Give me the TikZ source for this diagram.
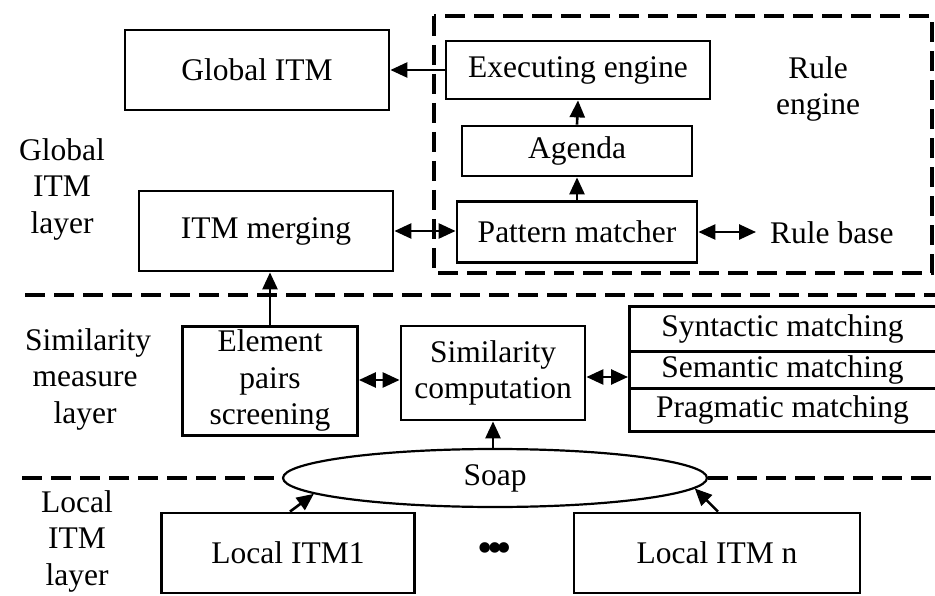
\documentclass[tikz,border=0pt]{standalone}
\usepackage{fontspec}
\setmainfont{Liberation Serif}
\usetikzlibrary{arrows.meta,shapes.geometric,calc}
\begin{document}
\begin{tikzpicture}[x=1pt,y=-1pt,
  every node/.style={font=\fontsize{31.5}{36.5}\selectfont, inner sep=0pt, align=center},
  box/.style={draw, line width=2.8pt, rectangle},
  row/.style={draw, line width=2.8pt, rectangle, minimum width=312pt, anchor=north west},
  layerline/.style={line width=4pt, dash pattern=on 20pt off 9pt},
  arr/.style={line width=2.6pt, -{Triangle[length=17pt,width=15pt]}},
  barr/.style={line width=2.6pt, {Triangle[length=17pt,width=15pt]}-{Triangle[length=17pt,width=15pt]}},
  label/.style={text width=120pt}]
\useasboundingbox (0,0) rectangle (935,596);

% rule engine frame
\draw[layerline] (434,16) rectangle (932,273);
\node at (818,89) {Rule\\engine};

% global ITM layer
\node[box, minimum width=264pt, minimum height=80pt] (gitm) at (257,70) {Global ITM};
\node[box, minimum width=254pt, minimum height=80pt] (merge) at (266,231) {ITM merging};
\node[box, minimum width=264pt, minimum height=58pt] (exec) at (578,70) {Executing engine};
\node[box, minimum width=230pt, minimum height=50pt] (agenda) at (577,151) {Agenda};
\node[box, minimum width=240pt, minimum height=61pt] (pattern) at (577,232) {Pattern matcher};
\node[anchor=west] (rbase) at (770,233) {Rule base};
\coordinate (rbtip) at (756,232);
\node[label] (lg) at (62,189) {Global\\ITM\\layer};

% layer separators
\draw[layerline] (25,295) -- (935,295);

% similarity measure layer
\node[box, minimum width=175pt, minimum height=105pt] (elem) at (270,381) {\raisebox{2pt}{\begin{tabular}{@{}c@{}}Element\\pairs\\screening\end{tabular}}};
\node[box, minimum width=184pt, minimum height=94pt] (simc) at (493,373) {Similarity\\computation};
\node[row, minimum height=45pt] (syn) at (628,305) {\hspace*{-6pt}Syntactic matching};
\node[row, minimum height=37pt] (sem) at (628,350) {\hspace*{-6pt}Semantic matching};
\node[row, minimum height=43pt] (prag) at (628,387) {\hspace*{-6pt}Pragmatic matching};
\node[label] (ls) at (85,379) {Similarity\\measure\\layer};

% soap bus and lower separator
\node[draw, ellipse, line width=2.2pt, minimum width=424pt, minimum height=58pt] (soap) at (495,478) {\raisebox{6pt}{Soap}};
\draw[layerline] (22,478) -- (soap.west);
\draw[layerline] (soap.east) -- (935,478);

% local ITM layer
\node[box, minimum width=253pt, minimum height=80pt] (l1) at (288,553) {Local ITM1};
\node[box, minimum width=286pt, minimum height=80pt] (ln) at (717,553) {Local ITM n};
\node (dots) at (495,553) {\fontsize{44}{44}\selectfont •\hspace{-6pt}•\hspace{-6pt}•};
\node[label] (ll) at (77,541) {Local\\ITM\\layer};

% connectors
\draw[arr] (exec.west) -- (gitm.east |- exec.west);
\draw[barr] (merge.east) -- (merge.east -| pattern.west);
\draw[arr] (pattern.north) -- (agenda.south);
\draw[arr] (agenda.north) -- (exec.south);
\draw[barr] (pattern.east |- rbtip) -- (rbtip);
\draw[arr] (elem.north) -- (elem.north |- merge.south);
\draw[barr] (elem.east |- 0,380) -- (simc.west |- 0,380);
\draw[barr] (simc.east |- 0,377) -- (sem.west |- 0,377);
\draw[arr] (soap.north -| simc.south) -- (simc.south);
\draw[arr] ([xshift=2pt]l1.north) -- (soap.185);
\draw[arr] ([xshift=1pt]ln.north) -- (soap.-3);
\end{tikzpicture}
\end{document}
